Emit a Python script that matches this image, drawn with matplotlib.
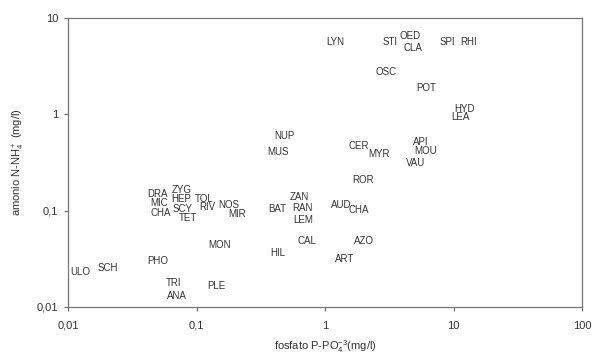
import matplotlib
matplotlib.use("Agg")
import matplotlib.pyplot as plt
from matplotlib.ticker import FixedLocator, NullLocator

plt.rcParams['font.family'] = ['Liberation Sans', 'DejaVu Sans']
plt.rcParams['mathtext.fontset'] = 'custom'
plt.rcParams['mathtext.rm'] = 'Liberation Sans'
plt.rcParams['mathtext.it'] = 'Liberation Sans'

# species codes with phosphate (x) and ammonium (y) in mg/l
codes = ['LYN', 'STI', 'OED', 'CLA', 'SPI', 'RHI', 'OSC', 'POT', 'HYD', 'LEA',
         'NUP', 'MUS', 'CER', 'MYR', 'API', 'MOU', 'VAU', 'ROR',
         'ZAN', 'RAN', 'LEM', 'BAT', 'AUD', 'CHA', 'CAL', 'AZO', 'HIL', 'ART',
         'DRA', 'ZYG', 'HEP', 'MIC', 'CHA', 'SCY', 'TET', 'TOL', 'RIV', 'NOS',
         'MIR', 'MON', 'PHO', 'ULO', 'SCH', 'TRI', 'ANA', 'PLE']
fosfato = [1.20, 3.21, 4.59, 4.84, 8.90, 13.2, 2.98, 6.11, 12.1, 11.4,
           0.48, 0.43, 1.84, 2.63, 5.58, 6.11, 5.11, 1.98,
           0.628, 0.662, 0.674, 0.423, 1.33, 1.84, 0.724, 2.01, 0.43, 1.41,
           0.0501, 0.0771, 0.0757, 0.0511, 0.0530, 0.0785, 0.0859, 0.114, 0.121, 0.179,
           0.207, 0.152, 0.0501, 0.0124, 0.0205, 0.0668, 0.0705, 0.142]
amonio = [5.64, 5.64, 6.50, 4.88, 5.64, 5.64, 2.75, 1.88, 1.14, 0.94,
          0.596, 0.406, 0.469, 0.387, 0.516, 0.416, 0.313, 0.208,
          0.139, 0.107, 0.080, 0.104, 0.115, 0.101, 0.0484, 0.0484, 0.0363, 0.0315,
          0.149, 0.164, 0.132, 0.120, 0.0946, 0.104, 0.084, 0.132, 0.109, 0.115,
          0.0923, 0.044, 0.030, 0.0231, 0.0254, 0.0177, 0.0130, 0.0165]

xticks = [0.01, 0.1, 1, 10, 100]
xticklabels = ['0,01', '0,1', '1', '10', '100']
yticks = [0.01, 0.1, 1, 10]
yticklabels = ['0,01', '0,1', '1', '10']

txt = '#333333'
fig = plt.figure(figsize=(5.92, 3.59), dpi=100)
ax = fig.add_axes([68/592, 1-307/359, 514/592, 289/359])
ax.set_xscale('log')
ax.set_yscale('log')
ax.set_xlim(0.01, 100)
ax.set_ylim(0.01, 10)

for c, x, y in zip(codes, fosfato, amonio):
    ax.text(x, y, c, ha='center', va='center', fontsize=7, color=txt)

ax.xaxis.set_major_locator(FixedLocator(xticks))
ax.yaxis.set_major_locator(FixedLocator(yticks))
ax.xaxis.set_minor_locator(NullLocator())
ax.yaxis.set_minor_locator(NullLocator())
ax.set_xticklabels(xticklabels)
ax.set_yticklabels(yticklabels)
ax.tick_params(axis='x', direction='out', length=3, width=0.8, color='#666666',
               pad=7, labelsize=8, labelcolor=txt)
ax.tick_params(axis='y', direction='out', length=3, width=0.8, color='#666666',
               pad=4, labelsize=8, labelcolor=txt)
for s in ax.spines.values():
    s.set_color('#777777')
    s.set_linewidth(0.9)

ax.set_xlabel(r'fosfato P-PO$_4^{-3}$(mg/l)', fontsize=8, color=txt, labelpad=5)
ax.set_ylabel(r'amonio N-NH$_4^+$ (mg/l)', fontsize=8, color=txt, labelpad=7)

fig.savefig('out.png', dpi=100)
